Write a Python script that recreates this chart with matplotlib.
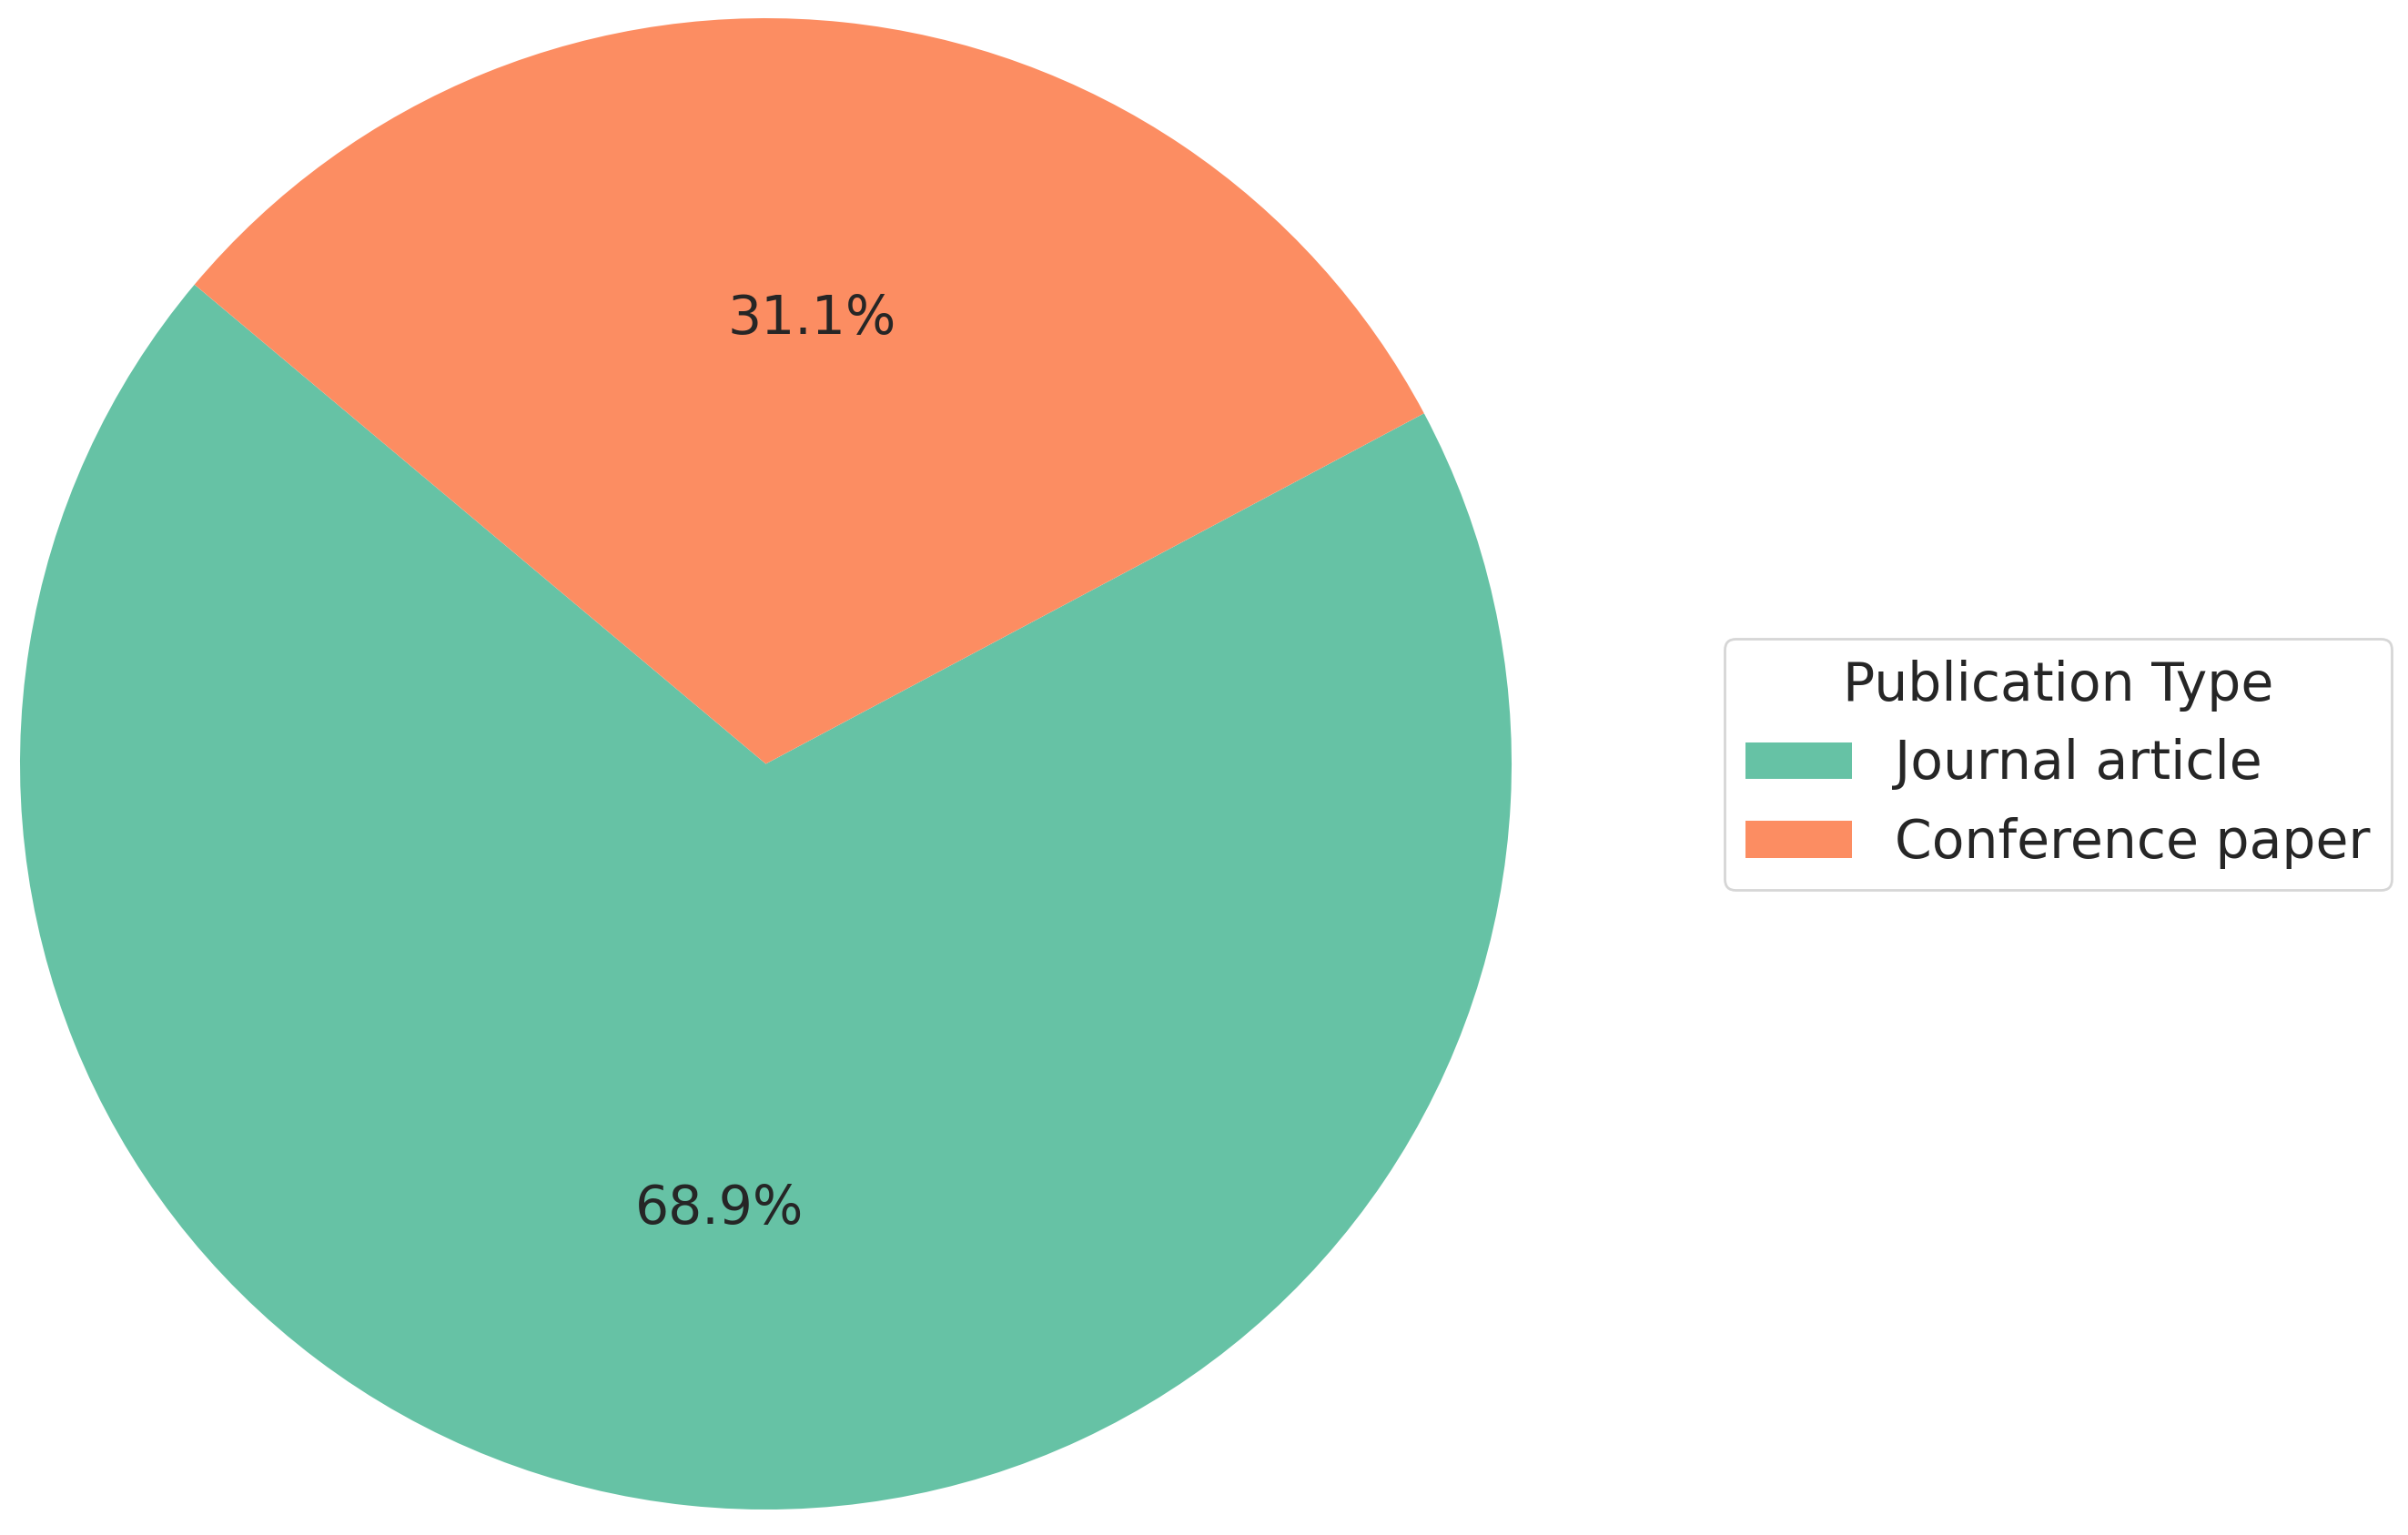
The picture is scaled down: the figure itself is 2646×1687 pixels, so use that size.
import matplotlib
matplotlib.use("Agg")
import matplotlib.pyplot as plt

labels = ["Journal article", "Conference paper"]
shares = [68.9, 31.1]
colors = ["#66c2a5", "#fc8d62"]

TEXT = "#262626"
plt.rcParams["font.family"] = ["DejaVu Sans"]
plt.rcParams["text.color"] = TEXT

W, H, DPI = 2646, 1687, 200
fig = plt.figure(figsize=(W / DPI, H / DPI), dpi=DPI)

# pie axes: circle spans ~22..1661 px horizontally, 20..1659 px from top
d = 1639
ax = fig.add_axes([22 / W, (H - 1659) / H, d / W, d / H])
wedges, texts, autotexts = ax.pie(shares, colors=colors, startangle=140,
                                  autopct="%1.1f%%", pctdistance=0.6,
                                  textprops={"fontsize": 21, "color": TEXT})
ax.set_xlim(-1, 1)
ax.set_ylim(-1, 1)
ax.set_aspect("equal")

leg = ax.legend(wedges, labels, title="Publication Type",
                loc="center left", bbox_to_anchor=(1895 / W, 1 - 840 / H),
                bbox_transform=fig.transFigure, borderaxespad=0,
                fontsize=21, title_fontsize=21,
                frameon=True, fancybox=True)
leg.get_frame().set_edgecolor("#cccccc")
leg.get_title().set_color(TEXT)
for t in leg.get_texts():
    t.set_color(TEXT)

fig.savefig("out.png", dpi=DPI)
